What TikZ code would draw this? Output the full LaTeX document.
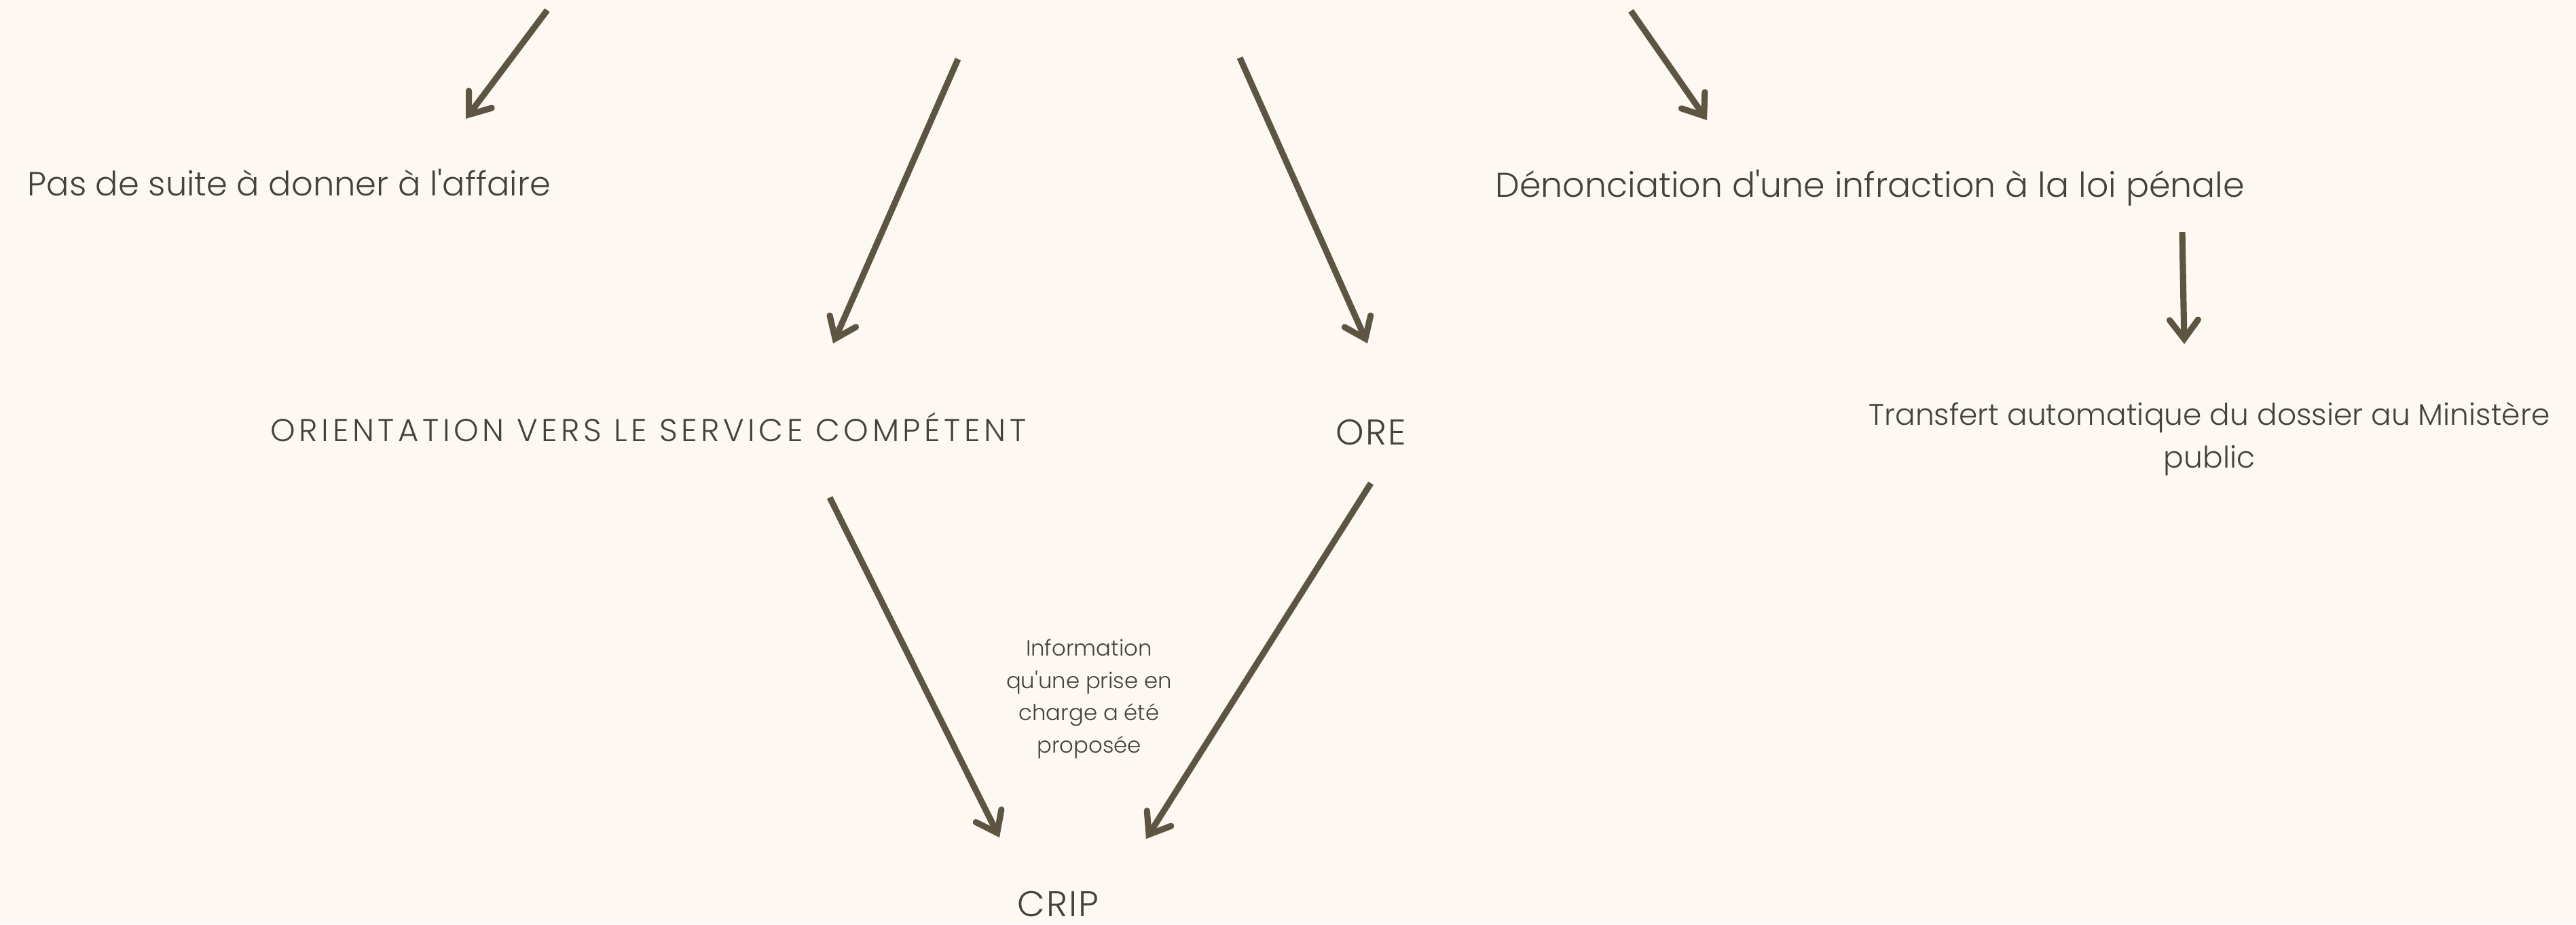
\documentclass[tikz,border=0pt]{standalone}
\usepackage{fontspec}
\setmainfont{Poppins}[UprightFont=* Light]
\newfontfamily\spacedfont{Poppins}[UprightFont=* Light, LetterSpace=12]
\newfontfamily\widefont{Poppins}[UprightFont=* Light, LetterSpace=4]
\usetikzlibrary{arrows.meta}
\definecolor{paper}{RGB}{253,248,242}
\definecolor{ink}{RGB}{64,68,58}
\definecolor{umber}{RGB}{94,84,66}
\tikzset{
  flow/.style={draw=umber, line width=2.6pt, -{Straight Barb[length=0.28cm, width=0.42cm, line cap=round]}},
  lbl/.style={text=ink, inner sep=0pt, font=\fontsize{14.1}{17}\selectfont},
  caps/.style={text=ink, inner sep=0pt, font=\widefont\fontsize{15}{18}\selectfont},
  note/.style={text=ink, inner sep=0pt, align=center, font=\fontsize{9.2}{13.6}\selectfont}
}
\begin{document}
\begin{tikzpicture}
  \useasboundingbox[fill=paper] (0,0) rectangle (37.94,-13.62);

  \node[lbl, anchor=base west]  (nosuite)  at ( 0.40, -2.88) {Pas de suite à donner à l\textquotesingle affaire};
  \node[lbl, anchor=base west, font=\fontsize{14.4}{17}\selectfont]
                                (denonc)   at (22.02, -2.90) {Dénonciation d\textquotesingle une infraction à la loi pénale};
  \node[lbl, anchor=north, align=center, font=\fontsize{12.5}{17.8}\selectfont]
                                (transfert) at (32.54, -5.92) {Transfert automatique du dossier au Ministère\\public};
  \node[caps, anchor=base west, font=\spacedfont\fontsize{13.25}{16}\selectfont]
                                (orient)   at ( 3.98, -6.50) {ORIENTATION VERS LE SERVICE COMPÉTENT};
  \node[caps, anchor=base west] (ore)      at (19.67, -6.55) {ORE};
  \node[caps, anchor=base west] (crip)     at (14.98, -13.50) {CRIP};
  \node[note]                   (info)     at (16.04, -10.30) {Information\\qu\textquotesingle une prise en\\charge a été\\proposée};

  \coordinate (src-a)    at ( 8.06, -0.15);
  \coordinate (src-b)    at (14.11, -0.87);
  \coordinate (src-c)    at (18.26, -0.85);
  \coordinate (src-d)    at (24.02, -0.16);
  \coordinate (nosuite-in) at ( 6.86, -1.75);
  \coordinate (orient-in)  at (12.27, -5.06);
  \coordinate (ore-in)     at (20.14, -5.06);
  \coordinate (denonc-in)  at (25.14, -1.77);
  \coordinate (denonc-out) at (32.14, -3.42);
  \coordinate (transfert-in) at (32.17, -5.07);
  \coordinate (orient-out) at (12.22, -7.33);
  \coordinate (ore-out)    at (20.19, -7.12);
  \coordinate (crip-l)     at (14.72, -12.34);
  \coordinate (crip-r)     at (16.88, -12.36);

  \draw[flow] (src-a) -- (nosuite-in);
  \draw[flow] (src-b) -- (orient-in);
  \draw[flow] (src-c) -- (ore-in);
  \draw[flow] (src-d) -- (denonc-in);
  \draw[flow] (denonc-out) -- (transfert-in);
  \draw[flow] (orient-out) -- (crip-l);
  \draw[flow] (ore-out) -- (crip-r);
\end{tikzpicture}
\end{document}
